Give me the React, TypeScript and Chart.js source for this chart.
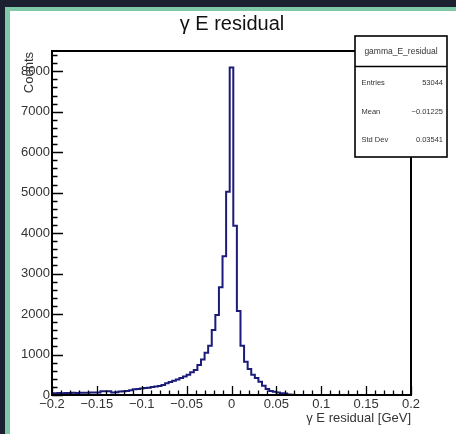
import React, { useEffect, useRef } from "react";
import { Chart, registerables } from "chart.js";

Chart.register(...registerables);

// ---- data ----
const binStart = -0.202;
const binWidth = 0.004;
const counts: number[] = [
  45, 45, 50, 45, 50, 50, 55, 50, 55, 55,
  55, 60, 60, 60, 90, 95, 90, 60, 65, 85,
  90, 100, 115, 140, 150, 160, 170, 180, 200, 210,
  225, 250, 290, 320, 350, 380, 420, 455, 500, 560,
  620, 740, 880, 1044, 1217, 1605, 1975, 2660, 3430, 5020,
  8090,
  4180, 2074, 1217, 822, 640, 500, 420, 330, 230, 150,
  100, 80, 60, 45, 35, 15, 5, 0, 0, 0,
  0, 0, 0, 0, 0, 0, 0, 0, 0, 0,
  0, 0, 0, 0, 0, 0, 0, 0, 0, 0,
  0, 0, 0, 0, 0, 0, 0, 0, 0, 0,
];
const xTickValues = [-0.2, -0.15, -0.1, -0.05, 0, 0.05, 0.1, 0.15, 0.2];
const xTickLabels = ["\u22120.2", "\u22120.15", "\u22120.1", "\u22120.05", "0", "0.05", "0.1", "0.15", "0.2"];
const yTickValues = [0, 1000, 2000, 3000, 4000, 5000, 6000, 7000, 8000];
const yTickLabels = ["0", "1000", "2000", "3000", "4000", "5000", "6000", "7000", "8000"];
const statsTitle = "gamma_E_residual";
const statsLabels = ["Entries", "Mean", "Std Dev"];
const statsValues = ["53044", "\u22120.01225", "0.03541"];
const chartTitle = "\u03b3 E residual";
const xTitle = "\u03b3 E residual [GeV]";
const yTitle = "Counts";

const FONT = "'Liberation Sans', Arial, sans-serif";

export default function App() {
  const ref = useRef<HTMLCanvasElement | null>(null);
  useEffect(() => {
    if (!ref.current) return;
    const pts: { x: number; y: number }[] = [];
    pts.push({ x: binStart, y: 0 });
    counts.forEach((c, i) => pts.push({ x: binStart + i * binWidth, y: c }));
    const last = counts.length;
    pts.push({ x: binStart + last * binWidth, y: counts[last - 1] });
    pts.push({ x: binStart + last * binWidth, y: 0 });

    const framePlugin = {
      id: "rootframe",
      beforeDraw(chart: any) {
        const ctx = chart.ctx;
        ctx.save();
        ctx.fillStyle = "#1b2130";
        ctx.fillRect(0, 0, chart.width, chart.height);
        ctx.fillStyle = "#80c9a8";
        ctx.fillRect(5, 7, chart.width, chart.height);
        ctx.fillStyle = "#ffffff";
        ctx.fillRect(10, 11, chart.width, chart.height);
        ctx.restore();
      },
      afterDraw(chart: any) {
        const ctx = chart.ctx;
        const a = chart.chartArea;
        const xs = chart.scales.x;
        const ys = chart.scales.y;
        ctx.save();
        // frame
        ctx.strokeStyle = "#000";
        ctx.lineWidth = 2;
        ctx.strokeRect(a.left, a.top, a.right - a.left, a.bottom - a.top);
        // x ticks
        ctx.lineWidth = 1.3;
        ctx.beginPath();
        for (let i = 0; i <= 40; i++) {
          const v = -0.2 + i * 0.01;
          const px = Math.round(xs.getPixelForValue(v)) + 0.5;
          const len = i % 5 === 0 ? 9 : 4.5;
          ctx.moveTo(px, a.bottom);
          ctx.lineTo(px, a.bottom - len);
        }
        // y ticks
        for (let i = 0; i <= 42; i++) {
          const v = i * 200;
          const py = Math.round(ys.getPixelForValue(v)) + 0.5;
          const len = i % 5 === 0 ? 11 : 5.5;
          ctx.moveTo(a.left, py);
          ctx.lineTo(a.left + len, py);
        }
        ctx.stroke();

        // title
        ctx.fillStyle = "#111";
        ctx.font = `20px ${FONT}`;
        ctx.textAlign = "center";
        ctx.textBaseline = "alphabetic";
        ctx.fillText(chartTitle, 232, 30);

        // x title
        ctx.fillStyle = "#333";
        ctx.font = `13px ${FONT}`;
        ctx.textAlign = "right";
        ctx.fillText(xTitle, a.right, 422);

        // y title
        ctx.save();
        ctx.translate(29, a.top + 1);
        ctx.rotate(-Math.PI / 2);
        ctx.textAlign = "right";
        ctx.textBaseline = "middle";
        ctx.fillText(yTitle, 0, 0);
        ctx.restore();

        // stats box
        const bx = 355, by = 36, bw = 92, bh = 121;
        ctx.fillStyle = "#fff";
        ctx.fillRect(bx, by, bw, bh);
        ctx.strokeStyle = "#000";
        ctx.lineWidth = 1.6;
        ctx.strokeRect(bx, by, bw, bh);
        ctx.beginPath();
        ctx.moveTo(bx, 66.5);
        ctx.lineTo(bx + bw, 66.5);
        ctx.stroke();
        ctx.fillStyle = "#333";
        ctx.font = `8.5px ${FONT}`;
        ctx.textAlign = "center";
        ctx.textBaseline = "middle";
        ctx.fillText(statsTitle, bx + bw / 2, 51.5);
        ctx.font = `7.5px ${FONT}`;
        const rowsY = [83, 111.5, 140];
        statsLabels.forEach((l, i) => {
          ctx.textAlign = "left";
          ctx.fillText(l, 361.5, rowsY[i]);
          ctx.textAlign = "right";
          ctx.fillText(statsValues[i], 443, rowsY[i]);
        });
        ctx.restore();
      },
    };

    const chart = new Chart(ref.current, {
      type: "line",
      data: {
        datasets: [
          {
            data: pts,
            stepped: "before",
            borderColor: "#1b1b7a",
            borderWidth: 2,
            pointRadius: 0,
            fill: false,
            tension: 0,
          },
        ],
      },
      options: {
        animation: false,
        responsive: false,
        devicePixelRatio: 1,
        layout: { padding: { top: 51, right: 45, left: 0, bottom: 0 } },
        plugins: { legend: { display: false }, tooltip: { enabled: false } },
        scales: {
          x: {
            type: "linear",
            min: -0.2,
            max: 0.2,
            grid: { display: false, drawTicks: false },
            border: { display: false },
            afterBuildTicks: (s: any) => {
              s.ticks = xTickValues.map((v) => ({ value: v }));
            },
            afterFit: (s: any) => {
              s.height = 39;
            },
            ticks: {
              autoSkip: false,
              maxRotation: 0,
              minRotation: 0,
              padding: 2,
              color: "#333",
              font: { family: FONT, size: 13 },
              callback: (_v: any, i: number) => xTickLabels[i],
            },
          },
          y: {
            type: "linear",
            min: 0,
            max: 8500,
            grid: { display: false, drawTicks: false },
            border: { display: false },
            afterBuildTicks: (s: any) => {
              s.ticks = yTickValues.map((v) => ({ value: v }));
            },
            afterFit: (s: any) => {
              s.width = 52;
            },
            ticks: {
              padding: 2,
              color: "#333",
              font: { family: FONT, size: 13 },
              callback: (_v: any, i: number) => yTickLabels[i],
            },
          },
        },
      },
      plugins: [framePlugin],
    } as any);
    return () => chart.destroy();
  }, []);
  return (
    <div style={{ position: "absolute", left: 0, top: 0, width: 456, height: 434 }}>
      <canvas ref={ref} width={456} height={434} style={{ display: "block" }} />
    </div>
  );
}
